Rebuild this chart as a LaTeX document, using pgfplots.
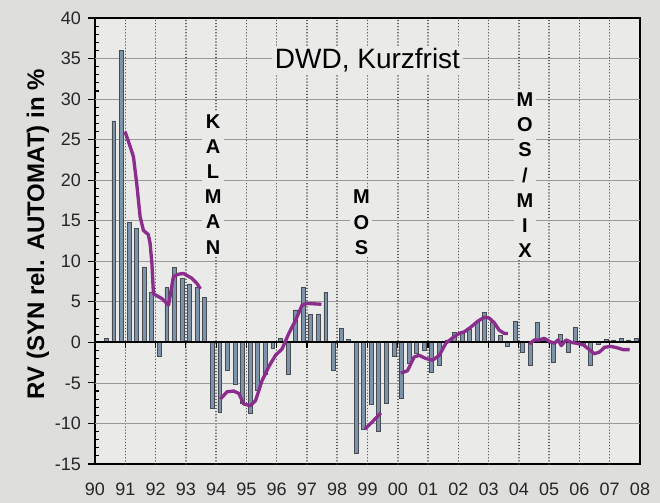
\documentclass[border=0pt]{standalone}
\usepackage{pgfplots}
\pgfplotsset{compat=1.18}
\usepackage{fontspec}
\setmainfont{Liberation Sans}
\definecolor{outerbg}{HTML}{DEDEDD}
\definecolor{plotbg}{HTML}{EAEAE9}
\definecolor{barfill}{HTML}{7D93A9}
\definecolor{bardraw}{HTML}{474C52}
\definecolor{purp}{HTML}{8A2D8C}
\definecolor{gridc}{HTML}{4A4A4A}
\begin{document}
\begin{tikzpicture}[x=1pt,y=1pt]
\fill[outerbg] (-71.25,-29.25) rectangle (423.75,348);
\begin{axis}[
 at={(0,0)}, anchor=south west,
 scale only axis, width=408.75pt, height=334.5pt,
 xmin=0, xmax=18, ymin=-15, ymax=40,
 axis background/.style={fill=plotbg},
 axis line style={line width=1.6pt, black},
 xtick={0,...,18},
 xticklabels={90,91,92,93,94,95,96,97,98,99,00,01,02,03,04,05,06,07,08},
 ytick={-15,-10,...,40},
 yticklabels={-15,-10,-5,0,5,10,15,20,25,30,35,40},
 minor y tick num=4,
 ytick pos=left,
 xtick pos=bottom,
 tick align=outside,
 major tick length=0pt,
 minor tick length=3pt,
 tick style={black, line width=0.8pt},
 every minor y tick/.append style={xshift=3pt},
 ticklabel style={font=\fontsize{13.5}{16}\selectfont, text=black!85},
 xticklabel style={yshift=-11pt},
 yticklabel style={xshift=-7pt},
 ylabel={RV (SYN rel. AUTOMAT) in \%},
 ylabel style={at={(axis description cs:-0.1046,0.515)}, anchor=center, font=\bfseries\fontsize{18}{21}\selectfont},
 clip=false,
]
% grid
\pgfplotsinvokeforeach{1,...,17}{\draw[gridc, line width=1.1pt, line cap=round, dash pattern=on 0.01pt off 2.3pt] (axis cs:#1,-15) -- (axis cs:#1,40);}
\pgfplotsinvokeforeach{-10,-5,...,35}{\draw[black!40, line width=0.6pt] (axis cs:0,#1) -- (axis cs:18,#1);}

\node[fill=plotbg, inner sep=2pt, font=\fontsize{21}{25}\selectfont] at (axis cs:9.0,34.8) {DWD, Kurzfrist};
\node[fill=plotbg, inner sep=2pt, align=center, font=\bfseries\fontsize{15}{18.9}\selectfont] at (axis cs:3.9,19.5) {K\\A\\L\\M\\A\\N};
\node[fill=plotbg, inner sep=2pt, align=center, font=\bfseries\fontsize{15}{18.9}\selectfont] at (axis cs:8.8,14.8) {M\\O\\S};
\node[fill=plotbg, inner sep=2pt, align=center, font=\bfseries\fontsize{15}{18.9}\selectfont] at (axis cs:14.2,20.6) {M\\O\\S\\/\\M\\I\\X};

\addplot[ybar, bar width=0.13, fill=barfill, draw=bardraw, line width=0.6pt] coordinates {
(0.375,0.5) (0.625,27.3) (0.875,36.0)
(1.125,14.8) (1.375,14.0) (1.625,9.3) (1.875,6.2)
(2.125,-1.7) (2.375,6.75) (2.625,9.2) (2.875,7.9)
(3.125,7.2) (3.375,6.75) (3.625,5.5) (3.875,-8.2)
(4.125,-8.6) (4.375,-3.4) (4.625,-5.2) (4.875,-7.5)
(5.125,-8.7) (5.375,-5.9) (5.625,-4.0) (5.875,-0.8)
(6.125,0.5) (6.375,-3.9) (6.625,4.0) (6.875,6.75)
(7.125,3.4) (7.375,3.5) (7.625,6.2) (7.875,-3.5)
(8.125,1.7) (8.375,0.4) (8.625,-13.7) (8.875,-10.7)
(9.125,-7.7) (9.375,-11.0) (9.625,-7.5) (9.875,-1.7)
(10.125,-6.9) (10.375,-2.6) (10.625,-1.4) (10.875,-1.0)
(11.125,-3.7) (11.375,-2.9) (11.625,0.3) (11.875,1.2)
(12.125,1.3) (12.375,1.6) (12.625,2.6) (12.875,3.7)
(13.125,2.5) (13.375,0.9) (13.625,-0.5) (13.875,2.6)
(14.125,-1.2) (14.375,-2.8) (14.625,2.5) (14.875,0.3)
(15.125,-2.5) (15.375,1.0) (15.625,-1.2) (15.875,1.8)
(16.125,-0.3) (16.375,-2.8) (16.625,-0.3) (16.875,0.4)
(17.125,0.3) (17.375,0.5) (17.625,0.3) (17.875,0.5)
};

\draw[black, line width=1.4pt] (axis cs:0,0) -- (axis cs:18,0);
\pgfplotsinvokeforeach{1,...,17}{\draw[black, line width=0.9pt] (axis cs:#1,0) -- ++(0pt,-4pt);}
\pgfplotsinvokeforeach{-15,-10,...,40}{\draw[black, line width=0.8pt] (axis cs:0,#1) -- ++(-5pt,0pt);}

\addplot[purp, line width=2.5pt, no marks, line join=round] coordinates {
(0.99,26.0) (1.13,24.5) (1.27,22.9) (1.38,19.5) (1.49,15.5) (1.60,13.8)
(1.76,13.3) (1.82,12.2) (1.88,9.7) (1.93,6.0) (2.21,5.4) (2.43,4.6)
(2.59,8.1) (2.75,8.4) (2.92,8.5) (3.20,7.9) (3.38,7.2) (3.48,6.6)
};
\addplot[purp, line width=2.5pt, no marks, line join=round] coordinates {
(4.14,-7.0) (4.36,-6.1) (4.58,-6.0) (4.75,-6.3) (4.91,-7.6) (5.13,-7.8)
(5.30,-7.2) (5.52,-4.7) (5.74,-3.0) (5.96,-1.6) (6.18,-0.8) (6.40,1.1)
(6.62,2.7) (6.84,4.6) (7.01,4.8) (7.48,4.7)
};
\addplot[purp, line width=2.5pt, no marks, line join=round] coordinates {
(8.91,-10.7) (9.16,-9.8) (9.44,-8.7)
};
\addplot[purp, line width=2.5pt, no marks, line join=round] coordinates {
(10.10,-3.8) (10.32,-3.5) (10.54,-1.8) (10.71,-1.6) (10.93,-2.0) (11.15,-2.2)
(11.37,-1.6) (11.59,-0.1) (11.86,0.7) (12.03,1.1) (12.20,1.3) (12.42,1.9)
(12.64,2.6) (12.86,3.1) (13.02,3.0) (13.19,2.4) (13.35,1.5) (13.52,1.1) (13.64,1.1)
};
\addplot[purp, line width=2.5pt, no marks, line join=round] coordinates {
(14.35,-0.2) (14.51,0.3) (14.68,0.3) (14.84,0.5) (15.01,0.1) (15.18,-0.1)
(15.29,0.3) (15.40,-0.4) (15.56,0.3) (15.73,0.0) (15.89,-0.1) (16.12,-0.3)
(16.33,-0.9) (16.49,-1.4) (16.66,-1.2) (16.83,-0.6) (17.05,-0.5) (17.27,-0.7)
(17.45,-0.9) (17.66,-0.9)
};
\end{axis}
\end{tikzpicture}
\end{document}
